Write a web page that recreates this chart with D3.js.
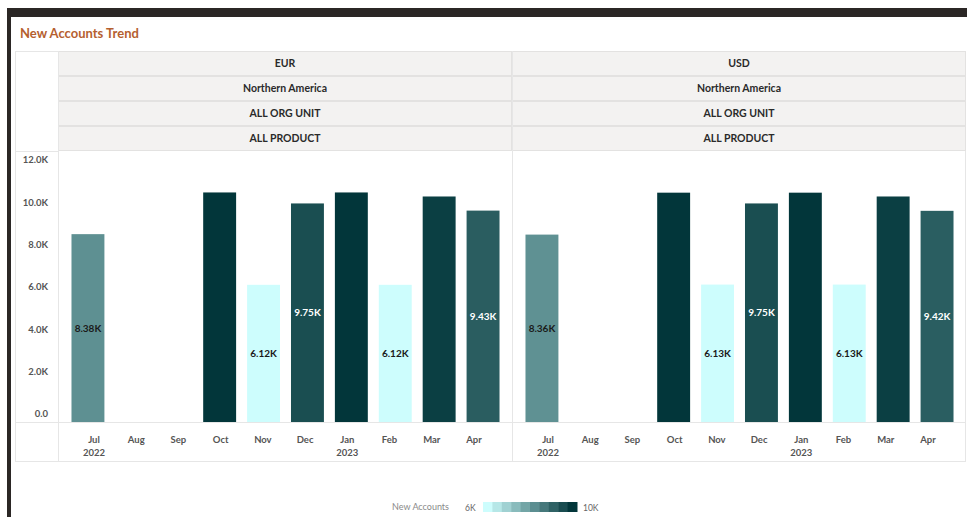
<!DOCTYPE html>
<html>
<head>
<meta charset="utf-8">
<script src="https://cdn.jsdelivr.net/npm/d3@7"></script>
<style>
  html, body { margin: 0; padding: 0; background: #fff; }
  svg { display: block; font-family: Lato, "Open Sans", sans-serif; }
</style>
</head>
<body>
<svg id="chart" width="967" height="517"></svg>
<script>
// ---- data ----
const months = ["Jul","Aug","Sep","Oct","Nov","Dec","Jan","Feb","Mar","Apr"];
const yearLabels = {"Jul":"2022","Jan":"2023"};
const panels = ["EUR","USD"];
const headerRows = [
  ["EUR","Northern America","ALL ORG UNIT","ALL PRODUCT"],
  ["USD","Northern America","ALL ORG UNIT","ALL PRODUCT"]
];
const eurValues = [8380, null, null, 10240, 6120, 9750, 10240, 6120, 10060, 9430];
const usdValues = [8360, null, null, 10230, 6130, 9750, 10230, 6130, 10060, 9420];
const labeledMonths = ["Jul","Nov","Dec","Feb","Apr"];
const yTicks = [0, 2000, 4000, 6000, 8000, 10000, 12000];
const legendTitle = "New Accounts";
const legendLabels = ["6K","10K"];

// ---- layout ----
const svg = d3.select("#chart");
const W = 967, H = 517;
const tableL = 15, tableR = 966, tableT = 51, tableB = 462;
const axisColR = 58, panelW = 454;
const rowH = 25, plotT = 151, plotB = 422;

// frame
svg.append("rect").attr("x",7).attr("y",8).attr("width",W-7).attr("height",9).attr("fill","#2b2725");
svg.append("rect").attr("x",7).attr("y",8).attr("width",4).attr("height",H-8).attr("fill","#2b2725");

svg.append("text").attr("x",20).attr("y",38)
  .attr("font-size",13).attr("font-weight","bold").attr("fill","#b5602f")
  .text("New Accounts Trend");

// table
const grid = "#e6e6e6";
svg.append("rect").attr("x",tableL+0.5).attr("y",tableT+0.5)
  .attr("width",tableR-tableL-1).attr("height",tableB-tableT-1)
  .attr("fill","none").attr("stroke",grid);

const allVals = eurValues.concat(usdValues).filter(v => v != null);
const y = d3.scaleLinear().domain([0,12000]).range([plotB, 153]);
const yLab = d3.scaleLinear().domain([0,12000]).range([414, 160]);
const color = d3.scaleLinear().domain(d3.extent(allVals)).range(["#cdfdfd","#02363a"]).clamp(true);
const fmt = v => d3.format(".3s")(v).replace("k","K");

panels.forEach((p, pi) => {
  const x0 = axisColR + pi*panelW;
  const g = svg.append("g");
  headerRows[pi].forEach((t, i) => {
    g.append("rect").attr("x",x0+0.5).attr("y",tableT+i*rowH+0.5)
      .attr("width",panelW-1).attr("height",rowH-1)
      .attr("fill","#f3f2f1").attr("stroke","#e3e2e1");
    g.append("text").attr("x",x0+panelW/2).attr("y",tableT+i*rowH+rowH/2)
      .attr("dy","0.35em").attr("text-anchor","middle")
      .attr("font-size",10.5).attr("font-weight","bold").attr("fill","#2a2a2a")
      .text(t);
  });

  const vals = pi === 0 ? eurValues : usdValues;
  const data = months.map((m,i) => ({m, v: vals[i]}));
  const xb = d3.scaleBand().domain(months).range([x0+8, x0+447]).paddingInner(0.25).paddingOuter(0.125);
  const xl = d3.scalePoint().domain(months).range([x0+36, x0+416]);

  g.selectAll("rect.bar").data(data.filter(d => d.v != null)).join("rect")
    .attr("class","bar")
    .attr("x", d => xb(d.m)).attr("width", xb.bandwidth())
    .attr("y", d => y(d.v)).attr("height", d => y(0)-y(d.v))
    .attr("fill", d => color(d.v));

  g.selectAll("text.val").data(data.filter(d => d.v != null && labeledMonths.includes(d.m))).join("text")
    .attr("class","val")
    .attr("x", d => xb(d.m)+xb.bandwidth()/2)
    .attr("y", d => (y(d.v)+y(0))/2)
    .attr("dy","0.35em").attr("text-anchor","middle")
    .attr("font-size",10).attr("font-weight","bold")
    .attr("fill", d => d.v > 9000 ? "#ffffff" : "#1a1a1a")
    .text(d => fmt(d.v));

  g.selectAll("text.mon").data(months).join("text")
    .attr("class","mon").attr("x", d => xl(d)).attr("y",440).attr("dy","0.35em")
    .attr("text-anchor","middle").attr("font-size",9.5).attr("font-weight","bold").attr("fill","#555")
    .text(d => d);
  g.selectAll("text.yr").data(months.filter(m => yearLabels[m])).join("text")
    .attr("class","yr").attr("x", d => xl(d)).attr("y",453).attr("dy","0.35em")
    .attr("text-anchor","middle").attr("font-size",9.5).attr("font-weight","bold").attr("fill","#555")
    .text(d => yearLabels[d]);
});

// grid lines
svg.append("line").attr("x1",axisColR+0.5).attr("x2",axisColR+0.5).attr("y1",tableT).attr("y2",tableB).attr("stroke",grid);
svg.append("line").attr("x1",axisColR+panelW+0.5).attr("x2",axisColR+panelW+0.5).attr("y1",tableT).attr("y2",tableB).attr("stroke",grid);
svg.append("line").attr("x1",tableL).attr("x2",tableR).attr("y1",plotB+0.5).attr("y2",plotB+0.5).attr("stroke",grid);
svg.append("line").attr("x1",tableL).attr("x2",axisColR).attr("y1",plotT+0.5).attr("y2",plotT+0.5).attr("stroke",grid);

// y labels
svg.append("g").selectAll("text").data(yTicks).join("text")
  .attr("x",48).attr("y", d => yLab(d)).attr("dy","0.35em").attr("text-anchor","end")
  .attr("font-size",9.5).attr("font-weight","bold").attr("fill","#555")
  .text(d => (d/1000).toFixed(1) + (d ? "K" : ""));

// legend
const lg = svg.append("g");
lg.append("text").attr("x",449).attr("y",507).attr("dy","0.35em").attr("text-anchor","end")
  .attr("font-size",9).attr("fill","#8a8a8a").text(legendTitle);
lg.append("text").attr("x",465).attr("y",508).attr("dy","0.35em")
  .attr("font-size",8.5).attr("fill","#666").text(legendLabels[0]);
lg.append("text").attr("x",583).attr("y",508).attr("dy","0.35em")
  .attr("font-size",8.5).attr("fill","#666").text(legendLabels[1]);
const steps = d3.range(10);
const lx = d3.scaleBand().domain(steps).range([483, 577]);
const stepVal = d3.scaleLinear().domain([0,9]).range(color.domain());
lg.selectAll("rect").data(steps).join("rect")
  .attr("x", d => lx(d)).attr("y",502).attr("width", lx.bandwidth()+0.5).attr("height",10)
  .attr("fill", d => color(stepVal(d)));
</script>
</body>
</html>
